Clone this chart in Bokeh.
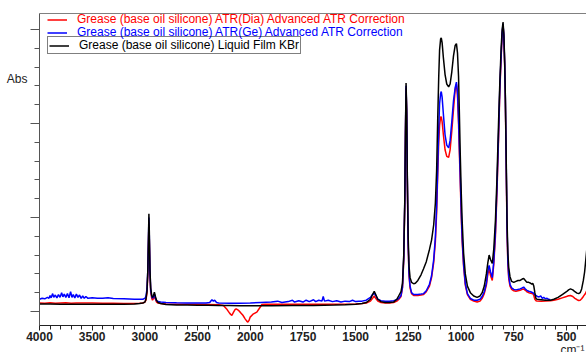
import numpy as np
from bokeh.plotting import figure
from bokeh.models import (Range1d, FixedTicker, LinearAxis, Legend, LegendItem,
                          ColumnDataSource)
from bokeh.embed import file_html
from bokeh.resources import INLINE

# ---------------- data (wavenumber cm-1, absorbance) ----------------
kbr_w = [4000, 3900, 3800, 3700, 3600, 3500, 3400, 3300, 3200, 3100, 3050, 3020, 3000, 2990, 2980,
         2972, 2966, 2962, 2958, 2952, 2945, 2935, 2928, 2918, 2910, 2900, 2890, 2875, 2850, 2800,
         2700, 2600, 2500, 2400, 2300, 2200, 2100, 2000, 1900, 1800, 1700, 1600, 1550, 1500, 1470,
         1450, 1430, 1420, 1412, 1405, 1395, 1380, 1360, 1340, 1320, 1305, 1295, 1285, 1278, 1272,
         1267, 1264, 1261, 1258, 1255, 1251, 1247, 1242, 1235, 1225, 1217, 1205, 1190, 1178, 1165,
         1150, 1140, 1130, 1122, 1116, 1111, 1106, 1102, 1097, 1094, 1090, 1084, 1076, 1068, 1059,
         1052, 1044, 1036, 1028, 1022, 1017, 1012, 1008, 1004, 999, 995, 988, 980, 970, 956,
         940, 924, 910, 900, 890, 880, 873, 867, 860, 852, 845, 837, 830, 822, 816,
         810, 805, 801, 797, 793, 790, 786, 782, 778, 774, 768, 760, 750, 740, 730,
         720, 710, 703, 695, 688, 679, 670, 665, 660, 655, 650, 645, 640, 620, 600,
         576, 560, 540, 520, 500, 490, 481, 470, 460, 450, 442, 435, 428, 420, 414,
         410, 404, 400]
kbr_a = [0.080, 0.080, 0.078, 0.078, 0.076, 0.076, 0.076, 0.077, 0.078, 0.080, 0.085, 0.090, 0.100, 0.130, 0.220,
         0.450, 0.800, 1.040, 0.850, 0.450, 0.250, 0.170, 0.150, 0.170, 0.205, 0.160, 0.120, 0.095, 0.085, 0.075,
         0.070, 0.068, 0.066, 0.065, 0.064, 0.063, 0.062, 0.062, 0.062, 0.063, 0.064, 0.068, 0.072, 0.078, 0.085,
         0.095, 0.130, 0.180, 0.215, 0.180, 0.130, 0.105, 0.095, 0.095, 0.100, 0.130, 0.170, 0.210, 0.300, 0.600,
         1.200, 1.900, 2.430, 2.150, 1.450, 0.800, 0.480, 0.360, 0.310, 0.295, 0.300, 0.330, 0.390, 0.455, 0.530,
         0.660, 0.760, 0.920, 1.150, 1.500, 2.030, 2.500, 2.780, 2.900, 2.910, 2.860, 2.700, 2.520, 2.420, 2.390,
         2.420, 2.550, 2.720, 2.830, 2.850, 2.750, 2.500, 2.100, 1.680, 1.250, 0.970, 0.620, 0.400, 0.270, 0.200,
         0.165, 0.150, 0.165, 0.200, 0.270, 0.400, 0.520, 0.600, 0.550, 0.510, 0.660, 0.970, 1.400, 2.030, 2.450,
         2.800, 3.000, 3.080, 2.950, 2.650, 2.300, 1.650, 0.970, 0.620, 0.470, 0.370, 0.320, 0.310, 0.320, 0.330,
         0.330, 0.345, 0.350, 0.330, 0.310, 0.310, 0.300, 0.290, 0.300, 0.270, 0.200, 0.140, 0.130, 0.125, 0.120,
         0.120, 0.130, 0.150, 0.180, 0.210, 0.230, 0.240, 0.230, 0.210, 0.195, 0.190, 0.200, 0.240, 0.330, 0.420,
         0.510, 0.650, 0.750]

dia_w = [4000, 3950, 3900, 3850, 3800, 3750, 3700, 3650, 3600, 3500, 3400, 3300, 3200, 3100, 3050,
         3020, 3000, 2990, 2980, 2972, 2966, 2962, 2958, 2952, 2945, 2935, 2928, 2918, 2910, 2900,
         2890, 2875, 2850, 2800, 2700, 2600, 2500, 2400, 2300, 2255, 2220, 2195, 2175, 2160, 2145,
         2134, 2115, 2096, 2070, 2049, 2035, 2023, 2012, 2001, 1985, 1969, 1955, 1945, 1930, 1900,
         1800, 1700, 1600, 1500, 1470, 1450, 1430, 1420, 1412, 1405, 1395, 1380, 1360, 1340, 1320,
         1305, 1295, 1285, 1278, 1272, 1267, 1264, 1261, 1258, 1255, 1251, 1247, 1242, 1235, 1225,
         1217, 1205, 1190, 1178, 1165, 1150, 1140, 1130, 1122, 1116, 1111, 1106, 1102, 1097, 1094,
         1090, 1084, 1076, 1068, 1059, 1052, 1044, 1036, 1028, 1022, 1017, 1012, 1008, 1004, 999,
         995, 988, 980, 970, 956, 940, 924, 910, 900, 890, 880, 873, 867, 860, 852,
         845, 837, 830, 822, 816, 810, 805, 801, 797, 793, 790, 786, 782, 778, 774,
         768, 760, 750, 740, 730, 720, 710, 703, 695, 688, 679, 670, 665, 660, 655,
         650, 645, 640, 620, 600, 576, 560, 540, 520, 500, 490, 481, 470, 460, 450,
         442, 435, 428, 420, 414, 410, 404, 400]
dia_a = [0.090, 0.088, 0.092, 0.087, 0.090, 0.093, 0.088, 0.091, 0.089, 0.090, 0.088, 0.087, 0.086, 0.086, 0.088,
         0.090, 0.100, 0.120, 0.200, 0.400, 0.720, 0.950, 0.760, 0.400, 0.210, 0.140, 0.120, 0.140, 0.170, 0.130,
         0.100, 0.090, 0.085, 0.080, 0.078, 0.077, 0.076, 0.075, 0.072, 0.064, 0.020, -0.020, -0.043, -0.010, 0.020,
         0.029, 0.015, -0.007, -0.040, -0.078, -0.100, -0.114, -0.095, -0.060, -0.025, -0.007, 0.040, 0.074, 0.078, 0.078,
         0.077, 0.076, 0.077, 0.080, 0.085, 0.090, 0.110, 0.140, 0.165, 0.140, 0.110, 0.095, 0.090, 0.090, 0.095,
         0.110, 0.130, 0.160, 0.250, 0.550, 1.150, 1.850, 2.380, 2.100, 1.380, 0.700, 0.380, 0.250, 0.190, 0.170,
         0.170, 0.170, 0.175, 0.180, 0.210, 0.270, 0.360, 0.520, 0.740, 1.050, 1.450, 1.800, 1.980, 2.070, 2.070,
         2.020, 1.880, 1.720, 1.650, 1.640, 1.720, 1.920, 2.150, 2.360, 2.420, 2.300, 2.000, 1.680, 1.380, 1.000,
         0.750, 0.480, 0.280, 0.180, 0.130, 0.110, 0.100, 0.110, 0.140, 0.190, 0.280, 0.400, 0.450, 0.380, 0.330,
         0.500, 0.800, 1.250, 1.850, 2.350, 2.700, 2.950, 3.050, 2.920, 2.600, 2.250, 1.550, 0.850, 0.500, 0.350,
         0.270, 0.235, 0.220, 0.215, 0.220, 0.225, 0.235, 0.240, 0.225, 0.210, 0.200, 0.195, 0.190, 0.190, 0.170,
         0.130, 0.115, 0.112, 0.110, 0.112, 0.115, 0.120, 0.130, 0.145, 0.160, 0.168, 0.170, 0.160, 0.140, 0.125,
         0.117, 0.120, 0.135, 0.160, 0.180, 0.190, 0.220, 0.240]

ge_w = [4000, 3975, 3950, 3925, 3910, 3900, 3890, 3875, 3865, 3850, 3835, 3820, 3805, 3790, 3778,
        3765, 3750, 3735, 3720, 3705, 3692, 3680, 3665, 3650, 3635, 3620, 3605, 3590, 3575, 3560,
        3540, 3500, 3450, 3400, 3350, 3300, 3200, 3100, 3050, 3020, 3000, 2990, 2980, 2972, 2966,
        2962, 2958, 2952, 2945, 2935, 2928, 2918, 2910, 2900, 2890, 2875, 2850, 2800, 2700, 2600,
        2500, 2420, 2385, 2364, 2350, 2338, 2320, 2300, 2200, 2100, 2000, 1950, 1900, 1870, 1850,
        1820, 1800, 1790, 1770, 1750, 1735, 1720, 1700, 1690, 1675, 1660, 1654, 1648, 1630, 1610,
        1590, 1570, 1550, 1530, 1515, 1500, 1485, 1470, 1450, 1430, 1420, 1412, 1405, 1395, 1380,
        1360, 1340, 1320, 1305, 1295, 1285, 1278, 1272, 1267, 1264, 1261, 1258, 1255, 1251, 1247,
        1242, 1235, 1225, 1217, 1205, 1190, 1178, 1165, 1150, 1140, 1130, 1122, 1116, 1111, 1106,
        1102, 1097, 1094, 1090, 1084, 1076, 1068, 1059, 1052, 1044, 1036, 1028, 1022, 1017, 1012,
        1008, 1004, 999, 995, 988, 980, 970, 956, 940, 924, 910, 900, 890, 880, 873,
        867, 860, 852, 845, 837, 830, 822, 816, 810, 805, 801, 797, 793, 790, 786,
        782, 778, 774, 768, 760, 750, 740, 730, 720, 710, 703, 695, 688, 679, 670,
        665, 660, 655, 650, 645, 638, 630, 622, 615, 608, 600, 592, 585, 576]
ge_a = [0.130, 0.140, 0.135, 0.150, 0.140, 0.170, 0.145, 0.190, 0.150, 0.175, 0.145, 0.180, 0.150, 0.200, 0.155,
        0.185, 0.150, 0.190, 0.145, 0.210, 0.150, 0.180, 0.145, 0.185, 0.150, 0.175, 0.140, 0.165, 0.140, 0.160,
        0.140, 0.145, 0.140, 0.140, 0.145, 0.138, 0.135, 0.130, 0.130, 0.130, 0.140, 0.160, 0.240, 0.440, 0.780,
        1.000, 0.800, 0.430, 0.230, 0.160, 0.140, 0.155, 0.185, 0.140, 0.115, 0.105, 0.100, 0.095, 0.092, 0.090,
        0.090, 0.090, 0.095, 0.125, 0.110, 0.120, 0.095, 0.090, 0.088, 0.088, 0.090, 0.095, 0.100, 0.110, 0.095,
        0.105, 0.120, 0.100, 0.115, 0.100, 0.120, 0.105, 0.125, 0.105, 0.120, 0.110, 0.160, 0.110, 0.120, 0.105,
        0.115, 0.100, 0.110, 0.105, 0.120, 0.105, 0.110, 0.110, 0.120, 0.150, 0.180, 0.195, 0.170, 0.130, 0.115,
        0.110, 0.110, 0.115, 0.125, 0.140, 0.170, 0.260, 0.570, 1.180, 1.880, 2.400, 2.120, 1.400, 0.720, 0.400,
        0.270, 0.200, 0.180, 0.180, 0.180, 0.185, 0.190, 0.220, 0.290, 0.380, 0.550, 0.790, 1.120, 1.500, 1.950,
        2.210, 2.320, 2.340, 2.280, 2.100, 1.880, 1.770, 1.740, 1.820, 2.020, 2.240, 2.380, 2.440, 2.330, 2.050,
        1.750, 1.450, 1.050, 0.790, 0.500, 0.300, 0.190, 0.140, 0.120, 0.120, 0.130, 0.160, 0.210, 0.300, 0.430,
        0.490, 0.420, 0.360, 0.530, 0.850, 1.300, 1.900, 2.400, 2.720, 2.970, 3.060, 2.930, 2.620, 2.280, 1.600,
        0.900, 0.530, 0.380, 0.290, 0.250, 0.235, 0.230, 0.235, 0.240, 0.250, 0.260, 0.240, 0.225, 0.215, 0.210,
        0.205, 0.200, 0.190, 0.175, 0.170, 0.160, 0.155, 0.165, 0.140, 0.150, 0.135, 0.140, 0.130, 0.125]

labels = ["Grease (base oil silicone) ATR(Dia) Advanced ATR Correction",
          "Grease (base oil silicone) ATR(Ge) Advanced ATR Correction",
          "Grease (base oil silicone) Liquid Film KBr"]
tick_w = [4000, 3500, 3000, 2500, 2000, 1750, 1500, 1250, 1000, 750, 500]
tick_labels = ["4000", "3500", "3000", "2500", "2000", "1750", "1500", "1250", "1000", "750", "500"]
minor_w_hi = list(range(4000, 1999, -100))
minor_w_lo = list(range(1950, 349, -50))
y_major = [0, 1, 2, 3]
y_minor = [0.2, 0.4, 0.6, 0.8, 1.2, 1.4, 1.6, 1.8, 2.2, 2.4, 2.6, 2.8]
y_title = "Abs"
x_unit = "cm⁻¹"


def to_u(w):
    """Display coordinate: 4000-2000 cm-1 compressed 2x, below 2000 cm-1 linear."""
    w = np.asarray(w, dtype=float)
    return np.where(w >= 2000, (4000.0 - w) / 2.0, 3000.0 - w)


FONT = "Liberation Sans"
W, H = 586, 352
PX_PER_ABS = 94.0
LEFT_PX, TOP_PX, AXIS_PX = 39, 13, 325
Y_END = 3.170
U_END = 2595.0
PX_PER_U = (W - LEFT_PX) / U_END


def y_at(px):
    return Y_END - (px - TOP_PX) / PX_PER_ABS


def u_at(px):
    return (px - LEFT_PX) / PX_PER_U


Y_AXIS = y_at(AXIS_PX)

# the plotting frame covers the whole canvas; axes are pinned inside it
p = figure(width=W, height=H, output_backend="svg", toolbar_location=None,
           x_range=Range1d(u_at(0), U_END), y_range=Range1d(y_at(H), y_at(0)),
           x_axis_type=None, y_axis_type=None,
           min_border_left=0, min_border_right=0, min_border_top=0, min_border_bottom=0)
p.outline_line_color = None
p.background_fill_color = "white"
p.border_fill_color = "white"

src_dia = ColumnDataSource(dict(x=to_u(dia_w), y=dia_a))
src_ge = ColumnDataSource(dict(x=to_u(ge_w), y=ge_a))
src_kbr = ColumnDataSource(dict(x=to_u(kbr_w), y=kbr_a))

r_dia = p.line("x", "y", source=src_dia, line_color="#ff0000", line_width=1.5)
r_ge = p.line("x", "y", source=src_ge, line_color="#0000ff", line_width=1.5)
r_kbr = p.line("x", "y", source=src_kbr, line_color="#000000", line_width=1.5)


def bare_axis(ticks, texts, size="12px"):
    ax = LinearAxis(ticker=FixedTicker(ticks=ticks, minor_ticks=[]))
    ax.major_label_overrides = {t: s for t, s in zip(ticks, texts)}
    ax.major_label_orientation = "horizontal"
    ax.major_label_text_font = FONT
    ax.major_label_text_font_size = size
    ax.major_label_text_color = "#222222"
    ax.major_tick_out = 0
    ax.major_tick_in = 0
    ax.minor_tick_out = 0
    ax.minor_tick_in = 0
    ax.axis_line_color = None
    ax.major_tick_line_color = None
    ax.minor_tick_line_color = None
    return ax


# x axis
xt = [float(v) for v in to_u(tick_w)]
xminor = sorted(set(float(v) for v in to_u(minor_w_hi + minor_w_lo)))
xaxis = LinearAxis(ticker=FixedTicker(ticks=xt, minor_ticks=xminor),
                   fixed_location=Y_AXIS, bounds=(0, U_END))
xaxis.major_label_overrides = {v: s for v, s in zip(xt, tick_labels)}
xaxis.major_label_text_font = FONT
xaxis.major_label_text_font_size = "12px"
xaxis.major_label_text_font_style = "bold"
xaxis.major_label_text_color = "#222222"
xaxis.major_label_standoff = 1
xaxis.major_tick_out = 5
xaxis.major_tick_in = 0
xaxis.minor_tick_out = 4
xaxis.minor_tick_in = 0
xaxis.axis_line_color = "#222222"
xaxis.major_tick_line_color = "#222222"
xaxis.minor_tick_line_color = "#222222"
p.add_layout(xaxis, "below")

# unit text at the lower right (partly below the page edge, as in the original)
unit_axis = bare_axis([u_at(572)], [x_unit])
unit_axis.fixed_location = y_at(342)
unit_axis.major_label_standoff = 0
p.add_layout(unit_axis, "below")

# top frame line
top_axis = LinearAxis(ticker=FixedTicker(ticks=[], minor_ticks=[]),
                      fixed_location=Y_END, bounds=(0, U_END))
top_axis.axis_line_color = "#808080"
top_axis.major_tick_line_color = None
top_axis.minor_tick_line_color = None
p.add_layout(top_axis, "above")

# y axis (no numbers)
yaxis = LinearAxis(ticker=FixedTicker(ticks=y_major, minor_ticks=y_minor),
                   fixed_location=0, bounds=(Y_AXIS, Y_END))
yaxis.major_label_text_font_size = "0px"
yaxis.major_label_standoff = 0
yaxis.major_tick_out = 9
yaxis.major_tick_in = 0
yaxis.minor_tick_out = 5
yaxis.minor_tick_in = 0
yaxis.axis_line_color = "#555555"
yaxis.major_tick_line_color = "#555555"
yaxis.minor_tick_line_color = "#555555"
p.add_layout(yaxis, "left")

# "Abs" title near the top of the y axis
tax = bare_axis([y_at(78)], [y_title])
tax.fixed_location = 0
tax.major_label_standoff = 12
p.add_layout(tax, "left")

# legends (one per item so that each label keeps its series colour)
def add_legend(r, label, color, top_px, border=None):
    leg = Legend(items=[LegendItem(label=label, renderers=[r])],
                 location=(LEFT_PX + 8, H - top_px),
                 orientation="vertical", padding=1, margin=0, spacing=0,
                 glyph_width=20, glyph_height=11, label_height=11, label_standoff=10,
                 label_text_font=FONT, label_text_font_size="12px",
                 label_text_color=color, background_fill_alpha=0,
                 border_line_color=border, border_line_width=1)
    p.add_layout(leg)


add_legend(r_dia, labels[0], "#ff0000", 26)
add_legend(r_ge, labels[1], "#0000ff", 39)
add_legend(r_kbr, labels[2], "#000000", 54, border="#000000")

open("out.html", "w").write(file_html(p, INLINE))
